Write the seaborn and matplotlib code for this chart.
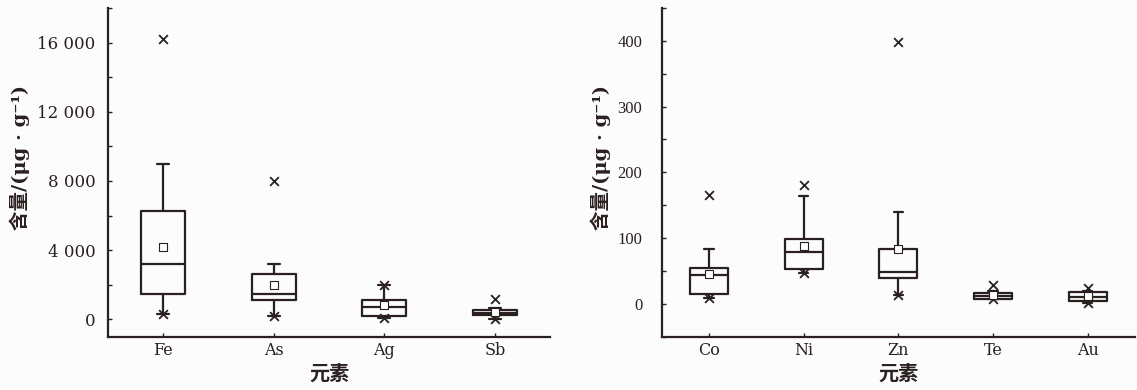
import numpy as np
import matplotlib
matplotlib.use("Agg")
import matplotlib.pyplot as plt
import seaborn as sns
import pandas as pd

# ---------------- data ----------------
left_cats = ["Fe", "As", "Ag", "Sb"]
left_q1 = [1480, 1100, 170, 250]
left_med = [3210, 1480, 710, 390]
left_q3 = [6290, 2640, 1150, 520]
left_whislo = [330, 170, 100, 30]
left_whishi = [9000, 3200, 2000, 670]
left_mean = [4170, 2000, 810, 420]
left_xlow = [330, 170, 100, 30]
left_xhigh = [16200, 8000, 2000, 1200]
left_yticks = [0, 4000, 8000, 12000, 16000]
left_yticklabels = ["0", "4 000", "8 000", "12 000", "16 000"]

right_cats = ["Co", "Ni", "Zn", "Te", "Au"]
right_q1 = [15, 53, 40, 8, 5]
right_med = [44, 79, 49, 12, 11]
right_q3 = [54, 99, 83, 17, 18]
right_whislo = [9, 47, 14, 7, 1]
right_whishi = [83, 164, 140, 19, 20]
right_mean = [46, 88, 84, 13, 12]
right_xlow = [9, 47, 14, 7, 1]
right_xhigh = [165, 181, 399, 28, 24]
right_yticks = [0, 100, 200, 300, 400]
right_yticklabels = ["0", "100", "200", "300", "400"]

ylabel = "含量/(μg · g\u207b\u00b9)"
xlabel = "元素"

# ---------------- style ----------------
sns.set_theme(style="ticks")
plt.rcParams["font.family"] = ["DejaVu Serif", "Noto Sans CJK SC"]
INK = "#2a2020"
BG = "#fcfcfc"

W, H = 1137, 390
fig = plt.figure(figsize=(W / 100, H / 100), dpi=100, facecolor=BG)


def panel(rect, cats, q1, med, q3, wlo, whi, mean, xlow, xhigh, ylim,
          yticks, yticklabels, minor, capw, ypad, ylab_x, yfont, yfs):
    ax = fig.add_axes(rect, facecolor=BG)
    pos = list(range(len(cats)))
    stats = []
    for i, c in enumerate(cats):
        stats.append(dict(label=c, q1=q1[i], med=med[i], q3=q3[i],
                          whislo=wlo[i], whishi=whi[i], mean=mean[i], fliers=[]))
    lw = 1.6
    ax.bxp(stats, positions=pos, widths=0.4, capwidths=capw, showmeans=False,
           showfliers=False, patch_artist=False,
           boxprops=dict(color=INK, lw=lw),
           medianprops=dict(color=INK, lw=lw),
           whiskerprops=dict(color=INK, lw=lw),
           capprops=dict(color=INK, lw=lw), manage_ticks=False)
    df_x = pd.DataFrame({"x": pos * 2, "y": list(xlow) + list(xhigh)})
    sns.scatterplot(data=df_x, x="x", y="y", marker="x", s=40, color=INK,
                    linewidth=1.3, ax=ax, zorder=5, legend=False)
    df_m = pd.DataFrame({"x": pos, "y": mean})
    sns.scatterplot(data=df_m, x="x", y="y", marker="s", s=26, facecolor="white",
                    edgecolor=INK, linewidth=0.8, ax=ax, zorder=6, legend=False)
    ax.set_xlim(-0.5, len(cats) - 0.5)
    ax.set_ylim(*ylim)
    ax.set_xticks(pos)
    ax.set_xticklabels(cats, fontsize=11.5, color=INK)
    ax.set_yticks(yticks)
    ax.set_yticklabels(yticklabels, fontsize=yfs, color=INK, family=yfont)
    ax.set_yticks(minor, minor=True)
    ax.tick_params(axis="both", which="both", direction="in", color=INK,
                   width=1.0, length=3)
    ax.tick_params(axis="y", which="major", pad=ypad)
    ax.tick_params(axis="x", which="major", pad=4)
    for s in ["top", "right"]:
        ax.spines[s].set_visible(False)
    for s in ["left", "bottom"]:
        ax.spines[s].set_color(INK)
        ax.spines[s].set_linewidth(1.6)
    ax.set_xlabel(xlabel, fontsize=14.5, color=INK, family=["Noto Sans CJK SC"],
                  weight="bold")
    ax.xaxis.set_label_coords(0.5, -0.11)
    ax.xaxis.label.set_va("center")
    ax.set_ylabel(ylabel, fontsize=14, color=INK, weight="bold",
                  family=["DejaVu Serif", "Noto Sans CJK SC"])
    ax.yaxis.set_label_coords(ylab_x, 0.545)
    ax.yaxis.label.set_va("center")
    ax.grid(False)
    return ax


bot = 1 - 336.7 / H
hgt = (336.7 - 8) / H
ax1 = panel([108 / W, bot, (550 - 108) / W, hgt], left_cats, left_q1, left_med,
            left_q3, left_whislo, left_whishi, left_mean, left_xlow, left_xhigh,
            (-1000, 18000), left_yticks, left_yticklabels,
            np.arange(0, 18001, 2000), 0.11, 9, (20 - 108) / 442,
            ["DejaVu Serif"], 12)
ax2 = panel([661.7 / W, bot, (1135 - 661.7) / W, hgt], right_cats, right_q1,
            right_med, right_q3, right_whislo, right_whishi, right_mean,
            right_xlow, right_xhigh, (-50, 450), right_yticks,
            right_yticklabels, np.arange(-50, 451, 50), 0.1, 14,
            (601 - 661.7) / 473.3, ["Liberation Serif"], 12)

fig.savefig("out.png", dpi=100, facecolor=BG)
